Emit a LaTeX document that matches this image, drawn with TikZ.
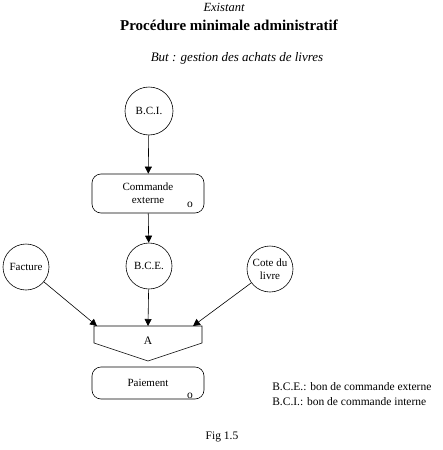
\documentclass[tikz,border=0pt]{standalone}
\usepackage{fontspec}
\setmainfont{Liberation Serif}
\usetikzlibrary{arrows.meta}
\begin{document}
\begin{tikzpicture}[x=1pt,y=-1pt, line width=0.6pt,
  txt/.style={font=\fontsize{11.5}{13}\selectfont, inner sep=0pt},
  flux/.style={draw, circle, minimum size=46pt, inner sep=0pt, align=center, font=\fontsize{11}{13}\selectfont},
  opbox/.style={draw, rounded corners=9pt, minimum width=112pt, align=center, inner sep=0pt, font=\fontsize{11}{13}\selectfont},
  arr/.style={-{Triangle[length=7pt,width=7pt]}}
]
\useasboundingbox (0,0) rectangle (443,450);
\node[inner sep=0pt, font=\fontsize{12.5}{14}\selectfont\itshape] (t1) at (224,7) {Existant};
\node[inner sep=0pt, font=\fontsize{15}{16}\selectfont\bfseries] (t2) at (229,25) {Procédure minimale administratif};
\node[inner sep=0pt, font=\fontsize{13}{14}\selectfont\itshape] (t3) at (237,58) {But : gestion des achats de livres};

\node[flux, minimum size=48pt] (bci) at (149,111) {B.C.I.};
\node[opbox, minimum height=39pt] (cmd) at (148,193.5) {Commande\\externe};
\node[txt] (o1) at (190,205) {o};
\node[flux] (bce) at (149,266) {B.C.E.};
\node[flux] (fac) at (26,267) {Facture};
\node[flux] (cote) at (270,269) {Cote du\\livre};

\coordinate (jl) at (94,326);
\coordinate (jr) at (202,326);
\draw (jl) -- (jr) -- (202,343) -- (148,361) -- (94,343) -- cycle;
\node[txt] (A) at (148,341) {A};
\coordinate (ja) at (97,326);
\coordinate (jb) at (148,326);
\coordinate (jc) at (193,326);

\node[opbox, minimum height=32pt] (pay) at (148,383) {Paiement};
\node[txt] (o2) at (190,396) {o};

\draw[arr] (bci) -- (cmd);
\draw[arr] (cmd) -- (bce);
\draw[arr] (fac) -- (ja);
\draw[arr] (bce) -- (jb);
\draw[arr] (cote) -- (jc);

\node[txt, anchor=west] (l1) at (272,387) {B.C.E.: bon de commande externe};
\node[txt, anchor=west] (l2) at (272,402) {B.C.I.: bon de commande interne};
\node[txt] (fig) at (222,437) {Fig 1.5};
\end{tikzpicture}
\end{document}
